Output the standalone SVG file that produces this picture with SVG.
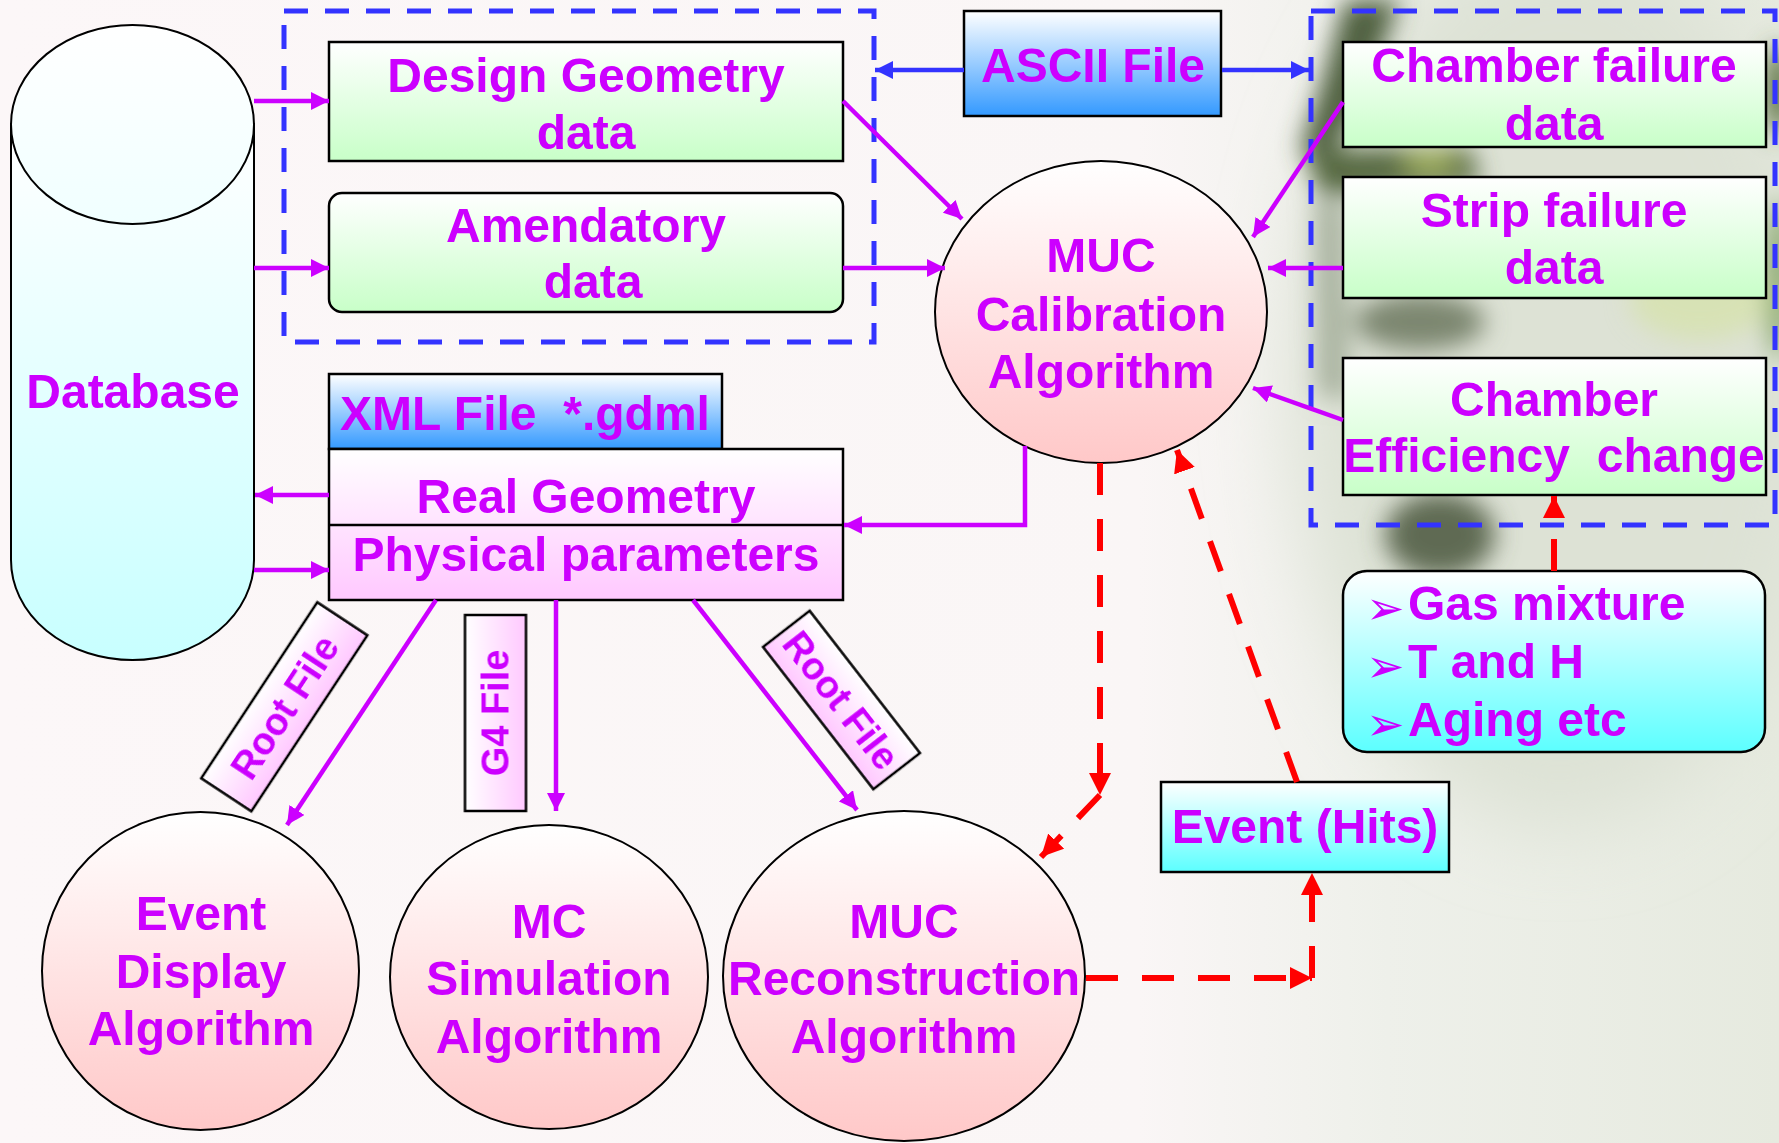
<svg xmlns="http://www.w3.org/2000/svg" width="1779" height="1143" viewBox="0 0 1779 1143">
<defs>
<style>
.t{font-family:"Liberation Sans",Arial,sans-serif;font-weight:bold;font-size:48px;fill:#cc00ff;text-anchor:middle}
.ts{font-family:"Liberation Sans",Arial,sans-serif;font-weight:bold;font-size:38px;fill:#cc00ff;text-anchor:middle}
.tl{font-family:"Liberation Sans",Arial,sans-serif;font-weight:bold;font-size:48px;fill:#cc00ff}
.bul{font-family:"DejaVu Sans",sans-serif;font-size:46px;fill:#cc00ff}
.box{stroke:#000;stroke-width:2.5}
.thin{stroke:#000;stroke-width:2}
.mag{fill:none;stroke:#cc00ff;stroke-width:4.5}
.blu{fill:none;stroke:#3333ff;stroke-width:4.5}
.red{fill:none;stroke:#ff0000;stroke-width:6;stroke-dasharray:32 24}
.grp{fill:none;stroke:#3333ff;stroke-width:5;stroke-dasharray:24 17}
</style>
<linearGradient id="gGreen" x1="0" y1="0" x2="0" y2="1"><stop offset="0" stop-color="#ffffff"/><stop offset="1" stop-color="#c8ffc8"/></linearGradient>
<linearGradient id="gBlue" x1="0" y1="0" x2="0" y2="1"><stop offset="0" stop-color="#ffffff"/><stop offset="1" stop-color="#3399ff"/></linearGradient>
<linearGradient id="gPinkE" x1="0" y1="0" x2="0" y2="1"><stop offset="0" stop-color="#ffffff"/><stop offset="1" stop-color="#ffc8c8"/></linearGradient>
<linearGradient id="gCyan" x1="0" y1="0" x2="0" y2="1"><stop offset="0" stop-color="#ffffff"/><stop offset="1" stop-color="#5cffff"/></linearGradient>
<linearGradient id="gDb" x1="0" y1="0" x2="0" y2="1"><stop offset="0" stop-color="#ffffff"/><stop offset="1" stop-color="#c8ffff"/></linearGradient>
<linearGradient id="gDbTop" x1="0" y1="0" x2="0" y2="1"><stop offset="0" stop-color="#ffffff"/><stop offset="1" stop-color="#f0ffff"/></linearGradient>
<linearGradient id="gMag" x1="0" y1="0" x2="0" y2="1"><stop offset="0" stop-color="#ffffff"/><stop offset="1" stop-color="#ffc8ff"/></linearGradient>
<linearGradient id="gBg" x1="0" y1="0" x2="1" y2="0"><stop offset="0" stop-color="#fcf7f8"/><stop offset="0.64" stop-color="#faf6f6"/><stop offset="0.78" stop-color="#eef0ea"/><stop offset="1" stop-color="#e6eadf"/></linearGradient>
<filter id="blur" x="-50%" y="-50%" width="200%" height="200%"><feGaussianBlur stdDeviation="12"/></filter>
<filter id="blurBig" x="-50%" y="-50%" width="200%" height="200%"><feGaussianBlur stdDeviation="40"/></filter>
<marker id="mM" markerUnits="userSpaceOnUse" markerWidth="20" markerHeight="18" refX="18" refY="9" orient="auto"><path d="M0,0 L18,9 L0,18 z" fill="#cc00ff"/></marker>
<marker id="mB" markerUnits="userSpaceOnUse" markerWidth="20" markerHeight="18" refX="18" refY="9" orient="auto"><path d="M0,0 L18,9 L0,18 z" fill="#3333ff"/></marker>
<marker id="mR" markerUnits="userSpaceOnUse" markerWidth="24" markerHeight="24" refX="22" refY="11" orient="auto"><path d="M0,0 L22,11 L0,22 z" fill="#ff0000"/></marker>
</defs>

<g id="background">
<rect x="0" y="0" width="1779" height="1143" fill="url(#gBg)"/>
<ellipse cx="1560" cy="380" rx="270" ry="450" fill="#dde2d5" filter="url(#blurBig)"/>
<g filter="url(#blur)">
<path d="M1345,0 L1400,0 L1360,110 L1325,165 L1300,150 L1320,90 Z" fill="#4f6040"/>
<path d="M1305,150 L1470,148 L1480,185 L1320,195 Z" fill="#55683f"/>
<ellipse cx="1430" cy="162" rx="28" ry="10" fill="#a8b860"/>
<path d="M1315,200 L1345,200 L1350,400 L1318,395 Z" fill="#9aa590" opacity="0.8"/>
<ellipse cx="1420" cy="322" rx="65" ry="28" fill="#7c8670"/>
<ellipse cx="1440" cy="535" rx="55" ry="42" fill="#5f6a52"/>
<ellipse cx="1779" cy="280" rx="14" ry="80" fill="#8aa870"/>
<ellipse cx="1779" cy="90" rx="14" ry="45" fill="#5a7040"/>
<ellipse cx="1700" cy="300" rx="70" ry="40" fill="#d6e2ac" opacity="0.8"/>
</g>
</g>

<g id="group-boxes">
<rect class="grp" x="284" y="11" width="590" height="331"/>
<rect class="grp" x="1311" y="11" width="464" height="514"/>
</g>

<g id="database">
<path d="M11,124 L11,560 A121.5,100 0 0 0 254,560 L254,124 Z" fill="url(#gDb)" class="thin"/>
<ellipse cx="132.5" cy="124.5" rx="121.5" ry="99.5" fill="url(#gDbTop)" class="thin"/>
<text class="t" x="133" y="408">Database</text>
</g>

<g id="design-geometry">
<rect class="box" x="329" y="42" width="514" height="119" fill="url(#gGreen)"/>
<text class="t" x="586" y="92">Design Geometry</text>
<text class="t" x="586" y="149">data</text>
</g>

<g id="amendatory">
<rect class="box" x="329" y="193" width="514" height="119" rx="13" fill="url(#gGreen)"/>
<text class="t" x="586" y="242">Amendatory</text>
<text class="t" x="593" y="298">data</text>
</g>

<g id="ascii-file">
<rect class="box" x="964" y="11" width="257" height="105" fill="url(#gBlue)"/>
<text class="t" x="1093" y="82">ASCII File</text>
</g>

<g id="chamber-failure">
<rect class="box" x="1343" y="42" width="423" height="105" fill="url(#gGreen)"/>
<text class="t" x="1554" y="82">Chamber failure</text>
<text class="t" x="1554" y="140">data</text>
</g>

<g id="strip-failure">
<rect class="box" x="1343" y="177" width="423" height="121" fill="url(#gGreen)"/>
<text class="t" x="1554" y="227">Strip failure</text>
<text class="t" x="1554" y="284">data</text>
</g>

<g id="chamber-efficiency">
<rect class="box" x="1343" y="358" width="423" height="137" fill="url(#gGreen)"/>
<text class="t" x="1554" y="416">Chamber</text>
<text class="t" x="1554" y="472">Efficiency&#160; change</text>
</g>

<g id="muc-calibration">
<ellipse class="thin" cx="1101" cy="312" rx="166" ry="151" fill="url(#gPinkE)"/>
<text class="t" x="1101" y="272">MUC</text>
<text class="t" x="1101" y="331">Calibration</text>
<text class="t" x="1101" y="388">Algorithm</text>
</g>

<g id="xml-file">
<rect class="box" x="329" y="374" width="393" height="75" fill="url(#gBlue)"/>
<text class="t" x="525" y="430">XML File&#160; *.gdml</text>
</g>

<g id="real-geometry">
<rect class="box" x="329" y="449" width="514" height="151" fill="url(#gMag)"/>
<line class="box" x1="329" y1="525" x2="843" y2="525"/>
<text class="t" x="586" y="513">Real Geometry</text>
<text class="t" x="586" y="571">Physical parameters</text>
</g>

<g id="root-file-left" transform="translate(284.3,706.8) rotate(-56.6)">
<rect class="box" x="-105.4" y="-30" width="210.8" height="60" fill="url(#gMag)"/>
<text class="ts" x="0" y="14">Root File</text>
</g>

<g id="g4-file" transform="translate(495.5,713) rotate(-90)">
<rect class="box" x="-98" y="-30.5" width="196" height="61" fill="url(#gMag)"/>
<text class="ts" x="0" y="13">G4 File</text>
</g>

<g id="root-file-right" transform="translate(841.5,700) rotate(52.2)">
<rect class="box" x="-90" y="-29.5" width="180" height="59" fill="url(#gMag)"/>
<text class="ts" x="0" y="14">Root File</text>
</g>

<g id="event-display">
<ellipse class="thin" cx="200.5" cy="971" rx="158.5" ry="159" fill="url(#gPinkE)"/>
<text class="t" x="201" y="930">Event</text>
<text class="t" x="201" y="988">Display</text>
<text class="t" x="201" y="1045">Algorithm</text>
</g>

<g id="mc-simulation">
<ellipse class="thin" cx="549" cy="977" rx="159" ry="152" fill="url(#gPinkE)"/>
<text class="t" x="549" y="938">MC</text>
<text class="t" x="549" y="995">Simulation</text>
<text class="t" x="549" y="1053">Algorithm</text>
</g>

<g id="muc-reconstruction">
<ellipse class="thin" cx="904" cy="976" rx="181" ry="165" fill="url(#gPinkE)"/>
<text class="t" x="904" y="938">MUC</text>
<text class="t" x="904" y="995">Reconstruction</text>
<text class="t" x="904" y="1053">Algorithm</text>
</g>

<g id="event-hits">
<rect class="box" x="1161" y="782" width="288" height="90" fill="url(#gCyan)"/>
<text class="t" x="1305" y="843">Event (Hits)</text>
</g>

<g id="conditions">
<rect class="box" x="1343" y="571" width="422" height="181" rx="24" fill="url(#gCyan)"/>
<text class="bul" x="1366" y="624">➢</text>
<text class="tl" x="1408" y="620">Gas mixture</text>
<text class="bul" x="1366" y="682">➢</text>
<text class="tl" x="1408" y="678">T and H</text>
<text class="bul" x="1366" y="740">➢</text>
<text class="tl" x="1408" y="736">Aging etc</text>
</g>

<g id="connectors">
<line class="mag" x1="254" y1="101" x2="329" y2="101" marker-end="url(#mM)"/>
<line class="mag" x1="254" y1="268" x2="329" y2="268" marker-end="url(#mM)"/>
<line class="mag" x1="329" y1="495" x2="255" y2="495" marker-end="url(#mM)"/>
<line class="mag" x1="254" y1="570" x2="329" y2="570" marker-end="url(#mM)"/>
<line class="mag" x1="843" y1="101" x2="962" y2="219" marker-end="url(#mM)"/>
<line class="mag" x1="843" y1="268" x2="945" y2="268" marker-end="url(#mM)"/>
<line class="mag" x1="1343" y1="102" x2="1253" y2="237" marker-end="url(#mM)"/>
<line class="mag" x1="1343" y1="268" x2="1268" y2="268" marker-end="url(#mM)"/>
<line class="mag" x1="1343" y1="420" x2="1253" y2="388" marker-end="url(#mM)"/>
<polyline class="mag" points="1025,446 1025,525 844,525" marker-end="url(#mM)"/>
<line class="mag" x1="436" y1="600" x2="287" y2="825" marker-end="url(#mM)"/>
<line class="mag" x1="556" y1="600" x2="556" y2="811" marker-end="url(#mM)"/>
<line class="mag" x1="693" y1="600" x2="857" y2="810" marker-end="url(#mM)"/>
<line class="blu" x1="964" y1="70" x2="875" y2="70" marker-end="url(#mB)"/>
<line class="blu" x1="1222" y1="70" x2="1309" y2="70" marker-end="url(#mB)"/>
<line class="red" x1="1100" y1="463" x2="1100" y2="795" marker-end="url(#mR)"/>
<line class="red" x1="1100" y1="795" x2="1041" y2="857" marker-end="url(#mR)"/>
<line class="red" x1="1297" y1="782" x2="1177" y2="450" marker-end="url(#mR)"/>
<line class="red" x1="1086" y1="978" x2="1312" y2="978" marker-end="url(#mR)"/>
<line class="red" x1="1312" y1="978" x2="1312" y2="873" marker-end="url(#mR)"/>
<line class="red" x1="1554" y1="571" x2="1554" y2="496" marker-end="url(#mR)"/>
</g>
</svg>
